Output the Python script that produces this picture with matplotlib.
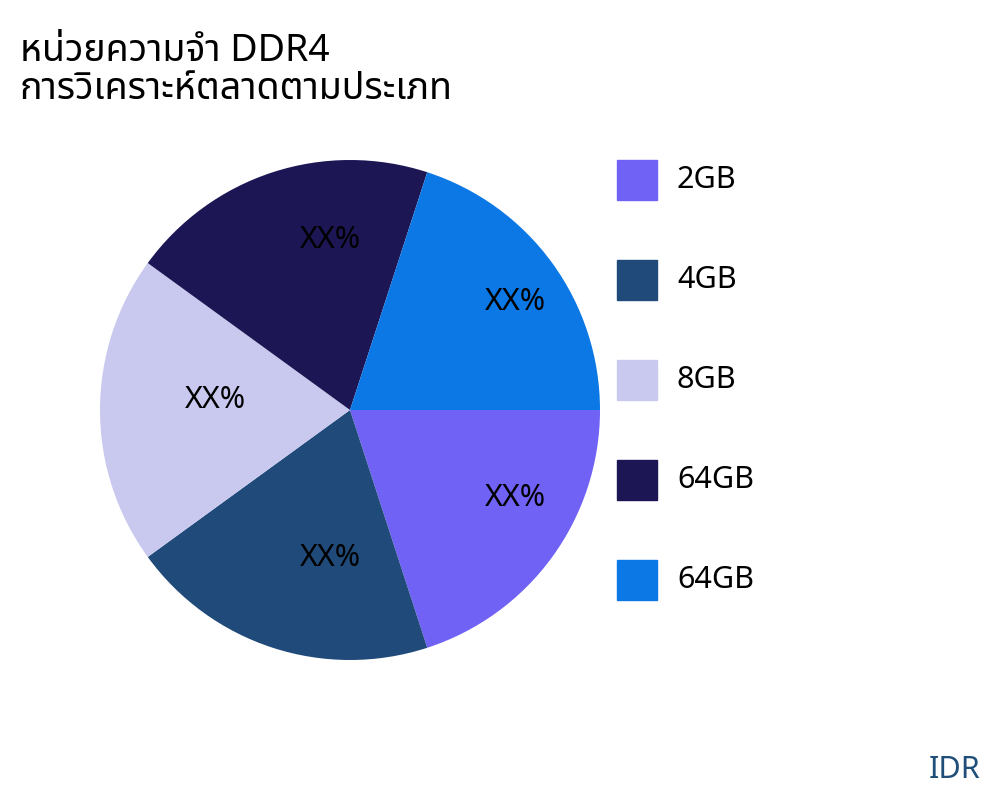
import matplotlib.pyplot as plt
from matplotlib.patches import Rectangle

plt.rcParams['font.family'] = ['Noto Sans', 'Noto Sans Thai', 'DejaVu Sans']

labels = ["2GB", "4GB", "8GB", "64GB", "64GB"]
values = [20, 20, 20, 20, 20]
pct_text = ["XX%", "XX%", "XX%", "XX%", "XX%"]
colors = ["#7062f5", "#1f4a7a", "#c9c9f0", "#1c1655", "#0b78e6"]
# label anchor points inside each slice (pie radius = 1)
label_xy = [(0.66, -0.35), (-0.08, -0.59), (-0.54, 0.04), (-0.08, 0.68), (0.66, 0.43)]

fig = plt.figure(figsize=(10, 8), dpi=100)
ax = fig.add_axes([0.1, 0.175, 0.5, 0.625])
wedges, _ = ax.pie(values, colors=colors, startangle=0, counterclock=False,
                   radius=1.0)
for (x, y), t in zip(label_xy, pct_text):
    ax.text(x, y, t, ha="center", va="center", fontsize=22)
ax.set_aspect("equal")
ax.set_xlim(-1, 1)
ax.set_ylim(-1, 1)

for i, (lab, c) in enumerate(zip(labels, colors)):
    y = 0.775 - i * 0.125
    fig.patches.append(Rectangle((0.617, y - 0.025), 0.04, 0.05,
                                 transform=fig.transFigure, color=c))
    fig.text(0.677, y, lab, va="center", fontsize=22)

fig.text(0.02, 0.912, "หน่วยความจำ DDR4\nการวิเคราะห์ตลาดตามประเภท",
         va="center", ha="left", fontsize=27, linespacing=1.0)
fig.text(0.98, 0.037, "IDR", ha="right", va="center", fontsize=22,
         color="#1f4e79")

fig.savefig("out.png")
